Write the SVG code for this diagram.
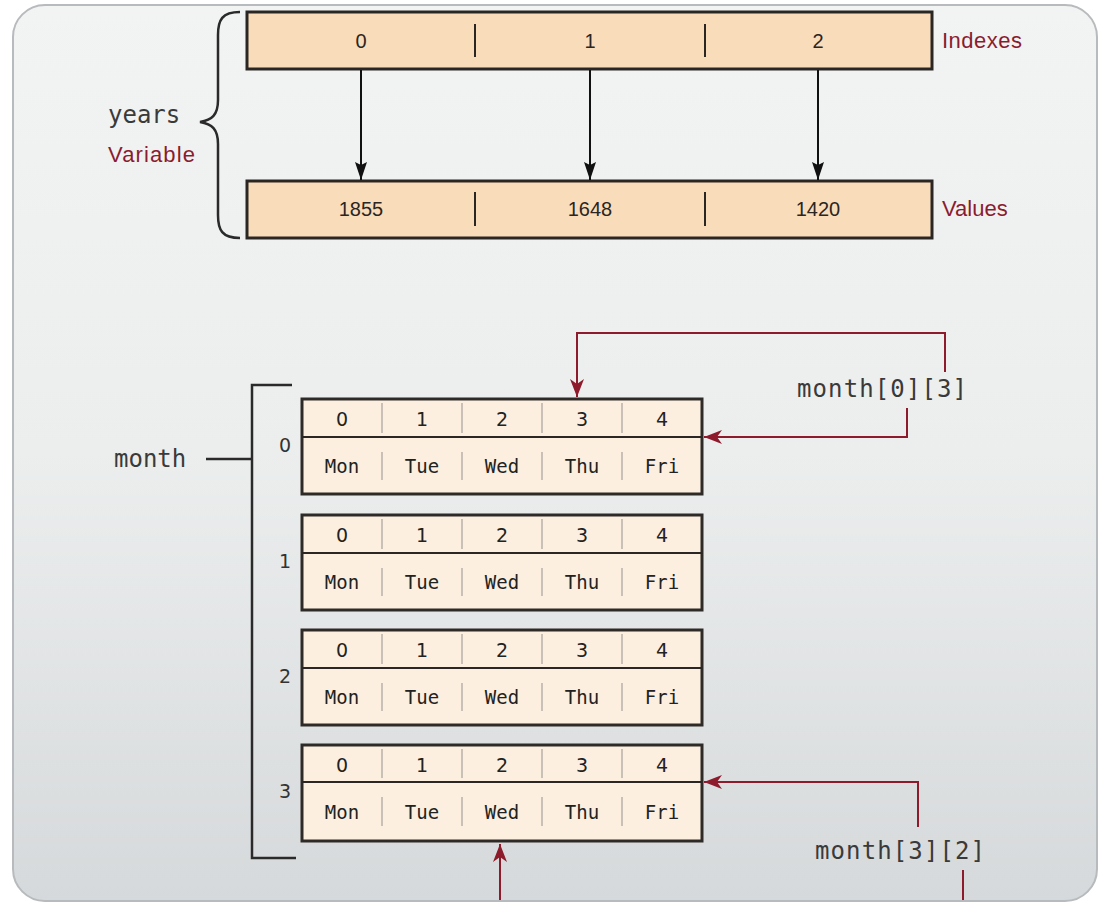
<svg xmlns="http://www.w3.org/2000/svg" width="1101" height="905" viewBox="0 0 1101 905">
<defs>
<linearGradient id="bg" x1="0" y1="0" x2="0" y2="1">
<stop offset="0" stop-color="#f2f3f3"/>
<stop offset="0.5" stop-color="#eceeee"/>
<stop offset="1" stop-color="#d6d9db"/>
</linearGradient>
<marker id="ab" viewBox="0 0 18 12" refX="18" refY="6" markerWidth="18" markerHeight="12" orient="auto" markerUnits="userSpaceOnUse">
<path d="M0,0 L18,6 L0,12 L3,6 z" fill="#111"/>
</marker>
<marker id="ar" viewBox="0 0 18 14" refX="18" refY="7" markerWidth="18" markerHeight="14" orient="auto" markerUnits="userSpaceOnUse">
<path d="M0,0 L18,7 L0,14 L5,7 z" fill="#8e1b2c"/>
</marker>
</defs>
<style>
.yb{fill:#f9dcb9;stroke:#2a2623;stroke-width:3}
.mb{fill:#fcefe0;stroke:#2e2a27;stroke-width:3}
.div{stroke:#2a2623;stroke-width:2}
.cdiv{stroke:#b9b2aa;stroke-width:1.5}
.num{font-family:"Liberation Sans",Arial,sans-serif;font-size:20px;fill:#2a2623;text-anchor:middle}
.idx{font-family:"DejaVu Sans",sans-serif;font-size:19px;fill:#222;text-anchor:middle}
.day{font-family:"DejaVu Sans Mono",monospace;font-size:19px;fill:#222;text-anchor:middle}
.red{font-family:"Liberation Sans",Arial,sans-serif;font-size:22px;fill:#8a1c2e}
.mono{font-family:"DejaVu Sans Mono","Liberation Mono",monospace;font-size:24px;fill:#3a3a3a}
.rl{font-family:"DejaVu Sans",sans-serif;font-size:19px;fill:#333;text-anchor:middle}
.bl{fill:none;stroke:#111;stroke-width:2}
.rc{fill:none;stroke:#8e1b2c;stroke-width:2}
.br{fill:none;stroke:#2a2a2a;stroke-width:2.5}
</style>
<rect x="13" y="5" width="1084" height="896" rx="32" fill="url(#bg)" stroke="#b8bbbd" stroke-width="2"/>

<g id="years-label">
<text class="mono" x="108" y="123">years</text>
<text class="red" x="108" y="162" textLength="87">Variable</text>
<path class="br" d="M240,12 C222,12 218,20 218,35 L218,100 C218,115 212,120 200,122 C212,124 218,129 218,144 L218,215 C218,230 222,238 240,238"/>
</g>

<g id="years-indexes">
<rect class="yb" x="247" y="12" width="685" height="57"/>
<line class="div" x1="475" y1="24" x2="475" y2="57"/>
<line class="div" x1="705" y1="24" x2="705" y2="57"/>
<text class="num" x="361" y="48">0</text>
<text class="num" x="590" y="48">1</text>
<text class="num" x="818" y="48">2</text>
<text class="red" x="942" y="48" textLength="80">Indexes</text>
</g>

<g id="years-values">
<rect class="yb" x="247" y="181" width="685" height="57"/>
<line class="div" x1="475" y1="192" x2="475" y2="226"/>
<line class="div" x1="705" y1="192" x2="705" y2="226"/>
<text class="num" x="361" y="216">1855</text>
<text class="num" x="590" y="216">1648</text>
<text class="num" x="818" y="216">1420</text>
<text class="red" x="942" y="216">Values</text>
</g>

<g id="month-label">
<text class="mono" x="114" y="467">month</text>
<line class="br" x1="206" y1="459" x2="252" y2="459"/>
<path class="br" d="M292,385 L252,385 L252,858 L296,858"/>
</g>

<g id="row0">
<rect class="mb" x="302" y="399" width="400" height="95"/>
<line class="div" x1="302" y1="437" x2="702" y2="437"/>
<g class="cdiv"><line x1="382" y1="403" x2="382" y2="433"/><line x1="462" y1="403" x2="462" y2="433"/><line x1="542" y1="403" x2="542" y2="433"/><line x1="622" y1="403" x2="622" y2="433"/><line x1="382" y1="452" x2="382" y2="480"/><line x1="462" y1="452" x2="462" y2="480"/><line x1="542" y1="452" x2="542" y2="480"/><line x1="622" y1="452" x2="622" y2="480"/></g>
<text class="idx" x="342" y="426">0</text><text class="idx" x="422" y="426">1</text><text class="idx" x="502" y="426">2</text><text class="idx" x="582" y="426">3</text><text class="idx" x="662" y="426">4</text>
<text class="day" x="342" y="473">Mon</text><text class="day" x="422" y="473">Tue</text><text class="day" x="502" y="473">Wed</text><text class="day" x="582" y="473">Thu</text><text class="day" x="662" y="473">Fri</text>
<text class="rl" x="285" y="452">0</text>
</g>

<g id="row1">
<rect class="mb" x="302" y="515" width="400" height="95"/>
<line class="div" x1="302" y1="553" x2="702" y2="553"/>
<g class="cdiv"><line x1="382" y1="519" x2="382" y2="549"/><line x1="462" y1="519" x2="462" y2="549"/><line x1="542" y1="519" x2="542" y2="549"/><line x1="622" y1="519" x2="622" y2="549"/><line x1="382" y1="568" x2="382" y2="596"/><line x1="462" y1="568" x2="462" y2="596"/><line x1="542" y1="568" x2="542" y2="596"/><line x1="622" y1="568" x2="622" y2="596"/></g>
<text class="idx" x="342" y="542">0</text><text class="idx" x="422" y="542">1</text><text class="idx" x="502" y="542">2</text><text class="idx" x="582" y="542">3</text><text class="idx" x="662" y="542">4</text>
<text class="day" x="342" y="589">Mon</text><text class="day" x="422" y="589">Tue</text><text class="day" x="502" y="589">Wed</text><text class="day" x="582" y="589">Thu</text><text class="day" x="662" y="589">Fri</text>
<text class="rl" x="285" y="568">1</text>
</g>

<g id="row2">
<rect class="mb" x="302" y="630" width="400" height="95"/>
<line class="div" x1="302" y1="668" x2="702" y2="668"/>
<g class="cdiv"><line x1="382" y1="634" x2="382" y2="664"/><line x1="462" y1="634" x2="462" y2="664"/><line x1="542" y1="634" x2="542" y2="664"/><line x1="622" y1="634" x2="622" y2="664"/><line x1="382" y1="683" x2="382" y2="711"/><line x1="462" y1="683" x2="462" y2="711"/><line x1="542" y1="683" x2="542" y2="711"/><line x1="622" y1="683" x2="622" y2="711"/></g>
<text class="idx" x="342" y="657">0</text><text class="idx" x="422" y="657">1</text><text class="idx" x="502" y="657">2</text><text class="idx" x="582" y="657">3</text><text class="idx" x="662" y="657">4</text>
<text class="day" x="342" y="704">Mon</text><text class="day" x="422" y="704">Tue</text><text class="day" x="502" y="704">Wed</text><text class="day" x="582" y="704">Thu</text><text class="day" x="662" y="704">Fri</text>
<text class="rl" x="285" y="683">2</text>
</g>

<g id="row3">
<rect class="mb" x="302" y="745" width="400" height="96"/>
<line class="div" x1="302" y1="782" x2="702" y2="782"/>
<g class="cdiv"><line x1="382" y1="749" x2="382" y2="778"/><line x1="462" y1="749" x2="462" y2="778"/><line x1="542" y1="749" x2="542" y2="778"/><line x1="622" y1="749" x2="622" y2="778"/><line x1="382" y1="797" x2="382" y2="826"/><line x1="462" y1="797" x2="462" y2="826"/><line x1="542" y1="797" x2="542" y2="826"/><line x1="622" y1="797" x2="622" y2="826"/></g>
<text class="idx" x="342" y="772">0</text><text class="idx" x="422" y="772">1</text><text class="idx" x="502" y="772">2</text><text class="idx" x="582" y="772">3</text><text class="idx" x="662" y="772">4</text>
<text class="day" x="342" y="819">Mon</text><text class="day" x="422" y="819">Tue</text><text class="day" x="502" y="819">Wed</text><text class="day" x="582" y="819">Thu</text><text class="day" x="662" y="819">Fri</text>
<text class="rl" x="285" y="798">3</text>
</g>

<g id="label-m03">
<text class="mono" x="797" y="397" textLength="170">month[0][3]</text>
</g>
<g id="label-m32">
<text class="mono" x="815" y="859" textLength="170">month[3][2]</text>
</g>

<g id="connectors">
<line class="bl" x1="361" y1="70" x2="361" y2="180" marker-end="url(#ab)"/>
<line class="bl" x1="590" y1="70" x2="590" y2="180" marker-end="url(#ab)"/>
<line class="bl" x1="818" y1="70" x2="818" y2="180" marker-end="url(#ab)"/>
<path class="rc" d="M945,372 L945,333 L577,333 L577,397" marker-end="url(#ar)"/>
<path class="rc" d="M907,408 L907,437 L704,437" marker-end="url(#ar)"/>
<path class="rc" d="M918,827 L918,782 L704,782" marker-end="url(#ar)"/>
<line class="rc" x1="963" y1="870" x2="963" y2="900"/>
<line class="rc" x1="500" y1="900" x2="500" y2="844" marker-end="url(#ar)"/>
</g>
</svg>
